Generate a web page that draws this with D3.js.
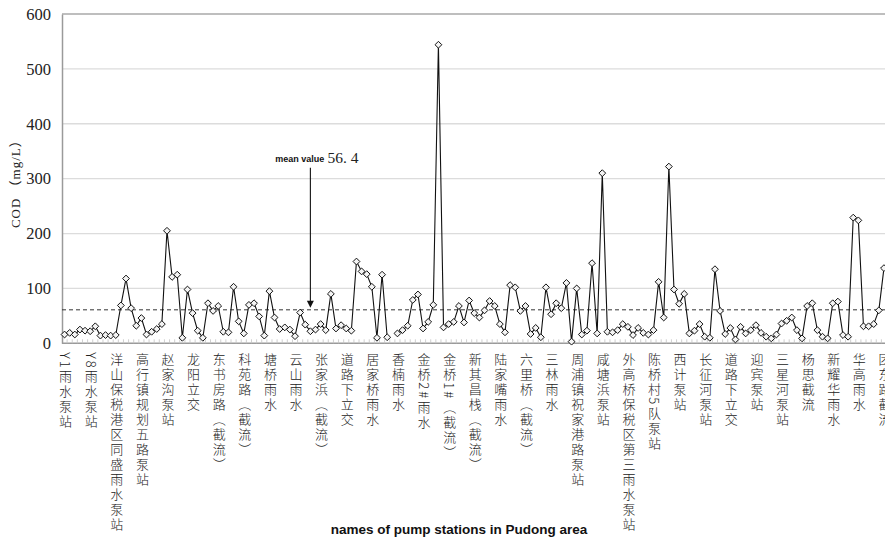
<!DOCTYPE html>
<html>
<head>
<meta charset="utf-8">
<script src="https://cdn.jsdelivr.net/npm/d3@7"></script>
<style>
  body { margin: 0; background: #fff; }
</style>
</head>
<body>
<svg id="chart" width="885" height="538"></svg>
<script>
// COD per pump station (mg/L), one value per station, null = no sample
const codValues = [
  16, 19, 16, 25, 23, 22, 31, 14, 15, 14,
  15, 69, 118, 64, 32, 46, 16, 21, 26, 35,
  205, 121, 125, 10, 98, 55, 23, 10, 73, 59,
  68, 21, 20, 103, 40, 18, 70, 73, 49, 14,
  95, 47, 26, 29, 25, 13, 56, 34, 22, 25,
  35, 24, 90, 27, 33, 27, 23, 149, 131, 126,
  103, 10, 125, 11, null, 18, 24, 32, 79, 89,
  27, 39, 70, 544, 29, 35, 39, 68, 38, 78,
  55, 47, 60, 77, 68, 35, 20, 106, 102, 59,
  68, 17, 28, 11, 102, 53, 73, 64, 110, 3,
  100, 16, 23, 146, 18, 310, 21, 20, 24, 35,
  30, 15, 28, 19, 16, 24, 112, 47, 322, 98,
  72, 90, 18, 23, 35, 12, 10, 135, 59, 17,
  28, 7, 30, 18, 24, 33, 19, 12, 9, 16,
  36, 41, 47, 24, 9, 68, 73, 24, 12, 9,
  73, 76, 15, 12, 229, 224, 31, 31, 35, 60,
  137
];

// every 5th station carries a label on the axis
const stationLabels = [
  "Y1雨水泵站", "Y8雨水泵站", "洋山保税港区同盛雨水泵站", "高行镇规划五路泵站",
  "赵家沟泵站", "龙阳立交", "东书房路（截流）", "科苑路（截流）", "塘桥雨水",
  "云山雨水", "张家浜（截流）", "道路下立交", "居家桥雨水", "香楠雨水",
  "金桥2#雨水", "金桥1#（截流）", "新其昌栈（截流）", "陆家嘴雨水", "六里桥（截流）",
  "三林雨水", "周浦镇祝家港路泵站", "咸塘浜泵站", "外高桥保税区第三雨水泵站",
  "陈桥村5队泵站", "西计泵站", "长征河泵站", "道路下立交", "迎宾泵站",
  "三星河泵站", "杨思截流", "新耀华雨水", "华高雨水", "团东路截流"
];
const labelEvery = 5;
const stationCount = 165;

const yTicks = [0, 100, 200, 300, 400, 500, 600];
const meanValue = "56. 4";
const meanLevel = 61;      // level of the dashed mean line as drawn
const arrowStation = 48;   // station the annotation arrow stands over
const arrowFrom = 320;     // COD level where the arrow starts

const svg = d3.select("#chart");

const plotLeft = 62, plotTop = 14, plotBottom = 343.3;
const plotRight = 907; // plot runs on past the window edge

const x = d3.scaleBand()
  .domain(d3.range(stationCount))
  .range([plotLeft, plotRight])
  .paddingInner(0)
  .paddingOuter(0);

const y = d3.scaleLinear().domain([0, 600]).range([plotBottom, plotTop]);

const cx = (i) => x(i) + x.bandwidth() / 2;

// gridlines
svg.append("g")
  .selectAll("line")
  .data(yTicks.filter((d) => d > 0 && d < 600))
  .join("line")
  .attr("x1", plotLeft)
  .attr("x2", plotRight)
  .attr("y1", (d) => y(d))
  .attr("y2", (d) => y(d))
  .attr("stroke", "#dcdcdc")
  .attr("stroke-width", 1.3);

// top border of plot
svg.append("line")
  .attr("x1", plotLeft)
  .attr("x2", plotRight)
  .attr("y1", y(600))
  .attr("y2", y(600))
  .attr("stroke", "#a8a8a8")
  .attr("stroke-width", 1.6);

// y axis
const yAxis = svg.append("g")
  .attr("transform", `translate(${plotLeft},0)`)
  .call(d3.axisLeft(y).tickValues(yTicks).tickSize(0).tickPadding(11));
yAxis.select(".domain").attr("stroke", "#9a9a9a").attr("stroke-width", 1.5);
yAxis.selectAll("text")
  .attr("font-family", "'Liberation Serif', 'DejaVu Serif', serif")
  .attr("font-size", 16.5)
  .attr("fill", "#222");

// x axis with small inside ticks at station boundaries
svg.append("line")
  .attr("x1", plotLeft)
  .attr("x2", plotRight)
  .attr("y1", plotBottom)
  .attr("y2", plotBottom)
  .attr("stroke", "#9a9a9a")
  .attr("stroke-width", 1.5);

svg.append("g")
  .selectAll("line")
  .data(d3.range(1, stationCount))
  .join("line")
  .attr("x1", (i) => x(i))
  .attr("x2", (i) => x(i))
  .attr("y1", plotBottom)
  .attr("y2", plotBottom - 4)
  .attr("stroke", "#c4c4c4")
  .attr("stroke-width", 0.8);

// station labels, written vertically
svg.append("g")
  .selectAll("text")
  .data(stationLabels)
  .join("text")
  .text((d) => d)
  .attr("x", (d, k) => cx(k * labelEvery) + 1)
  .attr("y", plotBottom + 9)
  .style("writing-mode", "vertical-rl")
  .attr("font-family", "'Noto Sans CJK SC', sans-serif")
  .attr("font-weight", 300)
  .attr("font-size", 13)
  .attr("letter-spacing", 2)
  .attr("fill", "#222");

// axis titles
svg.append("text")
  .text("COD （mg/L）")
  .attr("transform", `translate(20,${(plotTop + plotBottom) / 2 + 2}) rotate(-90)`)
  .attr("text-anchor", "middle")
  .attr("font-family", "'Liberation Serif', 'Noto Sans CJK SC', serif")
  .attr("font-size", 13)
  .attr("letter-spacing", 1)
  .attr("fill", "#222");

svg.append("text")
  .text("names of pump stations in Pudong area")
  .attr("x", 459)
  .attr("y", 534)
  .attr("text-anchor", "middle")
  .attr("font-family", "'Liberation Sans', Arial, sans-serif")
  .attr("font-weight", "bold")
  .attr("font-size", 13.5)
  .attr("fill", "#111");

// dashed mean line
svg.append("line")
  .attr("x1", plotLeft)
  .attr("x2", plotRight)
  .attr("y1", y(meanLevel))
  .attr("y2", y(meanLevel))
  .attr("stroke", "#333")
  .attr("stroke-width", 1)
  .attr("stroke-dasharray", "4,3");

// data line
const line = d3.line()
  .defined((d) => d != null)
  .x((d, i) => cx(i))
  .y((d) => y(d));

svg.append("path")
  .datum(codValues)
  .attr("d", line)
  .attr("fill", "none")
  .attr("stroke", "#111")
  .attr("stroke-width", 1.1);

// diamond markers
svg.append("g")
  .selectAll("path")
  .data(codValues.map((v, i) => ({ v, i })).filter((d) => d.v != null))
  .join("path")
  .attr("transform", (d) => `translate(${cx(d.i)},${y(d.v)})`)
  .attr("d", "M0,-3.4L3.4,0L0,3.4L-3.4,0Z")
  .attr("fill", "#f4f4f4")
  .attr("stroke", "#111")
  .attr("stroke-width", 1);

// mean value annotation
const ax = cx(arrowStation);
svg.append("line")
  .attr("x1", ax)
  .attr("x2", ax)
  .attr("y1", y(arrowFrom))
  .attr("y2", y(meanLevel) - 8)
  .attr("stroke", "#111")
  .attr("stroke-width", 1.1);

svg.append("path")
  .attr("transform", `translate(${ax},${y(meanLevel) - 2})`)
  .attr("d", "M0,0L-3.5,-7L3.5,-7Z")
  .attr("fill", "#111");

svg.append("text")
  .text("mean value")
  .attr("x", ax + 14)
  .attr("y", y(arrowFrom) - 6)
  .attr("text-anchor", "end")
  .attr("font-family", "'Liberation Sans', Arial, sans-serif")
  .attr("font-weight", "bold")
  .attr("font-size", 9)
  .attr("fill", "#111");

svg.append("text")
  .text(meanValue)
  .attr("x", ax + 17)
  .attr("y", y(arrowFrom) - 5)
  .attr("font-family", "'Liberation Serif', 'DejaVu Serif', serif")
  .attr("font-size", 15.5)
  .attr("fill", "#222");
</script>
</body>
</html>
